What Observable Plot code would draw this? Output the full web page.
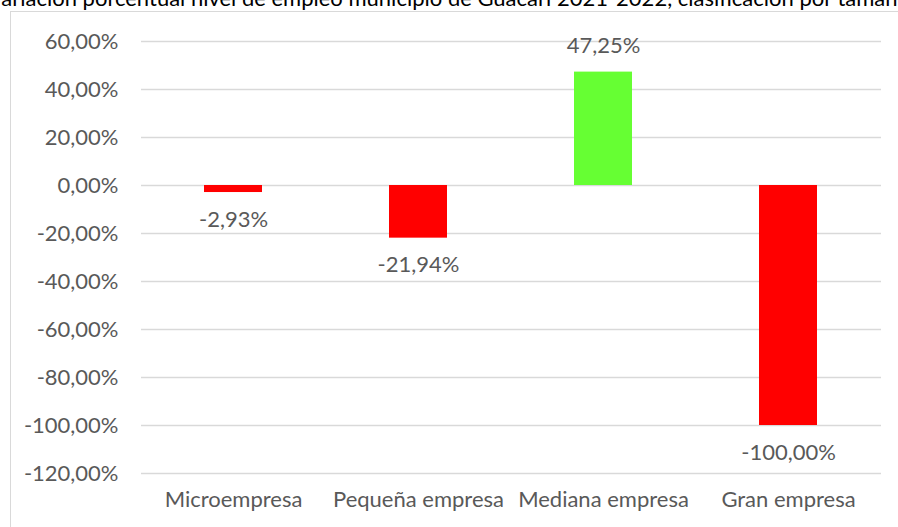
<!DOCTYPE html>
<html>
<head>
<meta charset="utf-8">
<script src="https://cdn.jsdelivr.net/npm/d3@7"></script>
<script src="https://cdn.jsdelivr.net/npm/@observablehq/plot@0.6"></script>
<style>
  html, body { margin: 0; padding: 0; background: #fff; }
  #wrap { position: relative; width: 898px; height: 527px; overflow: hidden; font-family: Lato, "Open Sans", sans-serif; }
  #title { position: absolute; left: -40px; right: -40px; top: -15px; text-align: center; white-space: nowrap;
           font-size: 22px; color: #000; line-height: 26px; }
  #frame { position: absolute; left: 10px; top: 11px; width: 900px; height: 530px;
           border-left: 1.5px solid #D9D9D9; border-top: 1.5px solid #D9D9D9; }
  #chart { position: absolute; left: 0; top: 0; }
</style>
</head>
<body>
<div id="wrap">
  <div id="title">Variación porcentual nivel de empleo municipio de Guacarí 2021-2022, clasificación por tamaño</div>
  <div id="frame"></div>
  <div id="chart"></div>
</div>
<script>
const categories = ["Microempresa", "Pequeña empresa", "Mediana empresa", "Gran empresa"];
const values = [-2.93, -21.94, 47.25, -100.00];
const yTicks = [60, 40, 20, 0, -20, -40, -60, -80, -100, -120];

const data = categories.map((c, i) => ({category: c, value: values[i]}));
const fmt = v => v.toFixed(2).replace(".", ",") + "%";

const chart = Plot.plot({
  width: 898,
  height: 527,
  marginLeft: 141,
  marginRight: 17,
  marginTop: 41,
  marginBottom: 54,
  style: {fontFamily: "Lato, 'Open Sans', sans-serif", fontSize: "22px", color: "#595959", background: "transparent"},
  x: {domain: categories, paddingInner: 0.686, paddingOuter: 0.343, label: null},
  y: {domain: [-120, 60], label: null},
  marks: [
    Plot.gridY(yTicks, {stroke: "#D9D9D9", strokeOpacity: 1, strokeWidth: 1.5}),
    Plot.axisY({ticks: yTicks, tickSize: 0, tickPadding: 23, tickFormat: fmt, label: null, fill: "#595959"}),
    Plot.axisX({tickSize: 0, tickPadding: 18, label: null, fill: "#595959"}),
    Plot.barY(data, {x: "category", y: "value", fill: d => d.value >= 0 ? "#66FF33" : "#FF0000"}),
    Plot.text(data.filter(d => d.value < 0), {x: "category", y: "value", text: d => fmt(d.value), dy: 27, fill: "#595959"}),
    Plot.text(data.filter(d => d.value >= 0), {x: "category", y: "value", text: d => fmt(d.value), dy: -26, fill: "#595959"})
  ]
});
document.getElementById("chart").appendChild(chart);
</script>
</body>
</html>
